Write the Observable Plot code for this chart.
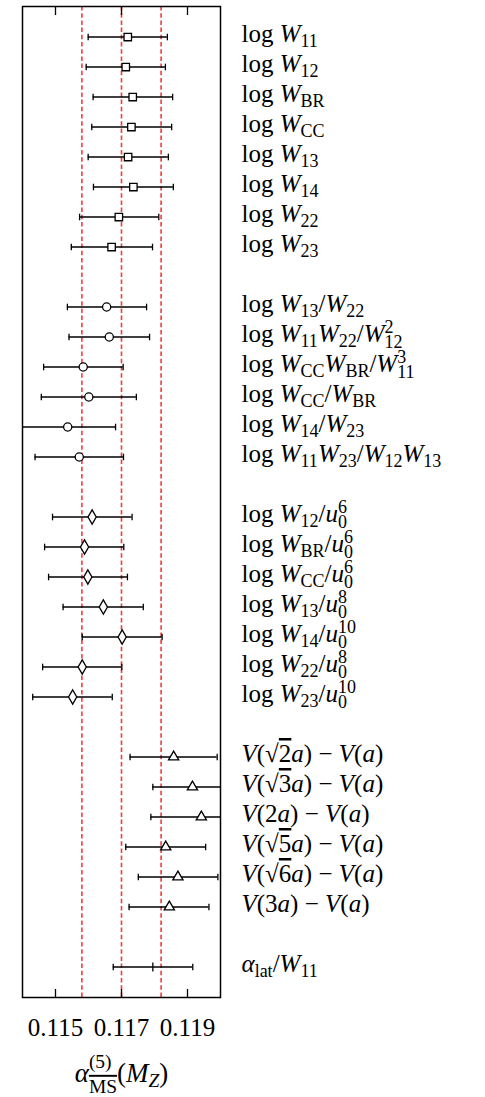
<!DOCTYPE html>
<html><head><meta charset="utf-8">
<script src="https://cdn.jsdelivr.net/npm/d3@7"></script>
<script src="https://cdn.jsdelivr.net/npm/@observablehq/plot@0.6"></script>
<style>html,body{margin:0;padding:0;background:#fff}</style>
</head><body><div id="chart"></div>
<script>
// ---- data ----
const squareLabels = ["log W_{11}", "log W_{12}", "log W_{BR}", "log W_{CC}", "log W_{13}", "log W_{14}", "log W_{22}", "log W_{23}"];
const squareValues = [0.11719, 0.11713, 0.11734, 0.11730, 0.11720, 0.11736, 0.11692, 0.11670];
const squareLow    = [0.11599, 0.11593, 0.11614, 0.11610, 0.11599, 0.11615, 0.11573, 0.11548];
const squareHigh   = [0.11839, 0.11833, 0.11855, 0.11852, 0.11842, 0.11857, 0.11813, 0.11794];

const circleLabels = ["log W_{13}/W_{22}", "log W_{11}W_{22}/W_{12}^{2}", "log W_{CC}W_{BR}/W_{11}^{3}", "log W_{CC}/W_{BR}", "log W_{14}/W_{23}", "log W_{11}W_{23}/W_{12}W_{13}"];
const circleValues = [0.11655, 0.11663, 0.11584, 0.11601, 0.11537, 0.11572];
const circleLow    = [0.11536, 0.11541, 0.11464, 0.11457, 0.11392, 0.11438];
const circleHigh   = [0.11776, 0.11785, 0.11705, 0.11745, 0.11682, 0.11706];

const diamondLabels = ["log W_{12}/u_{0}^{6}", "log W_{BR}/u_{0}^{6}", "log W_{CC}/u_{0}^{6}", "log W_{13}/u_{0}^{8}", "log W_{14}/u_{0}^{10}", "log W_{22}/u_{0}^{8}", "log W_{23}/u_{0}^{10}"];
const diamondValues = [0.11611, 0.11588, 0.11598, 0.11645, 0.11702, 0.11581, 0.11552];
const diamondLow    = [0.11491, 0.11467, 0.11479, 0.11523, 0.11581, 0.11461, 0.11431];
const diamondHigh   = [0.11732, 0.11707, 0.11718, 0.11766, 0.11823, 0.11701, 0.11672];

const triangleLabels = ["V(√{2}a) − V(a)", "V(√{3}a) − V(a)", "V(2a) − V(a)", "V(√{5}a) − V(a)", "V(√{6}a) − V(a)", "V(3a) − V(a)"];
const triangleValues = [0.11858, 0.11915, 0.11942, 0.11834, 0.11871, 0.11845];
const triangleLow    = [0.11726, 0.11795, 0.11789, 0.11713, 0.11751, 0.11723];
const triangleHigh   = [0.11990, 0.12035, 0.12095, 0.11955, 0.11992, 0.11965];

const latticeLabels = ["α_{lat}/W_{11}"];
const latticeValues = [0.11795];
const latticeLow    = [0.11675];
const latticeHigh   = [0.11916];

const tickValues = [0.115, 0.117, 0.119];
const bandValues = [0.1158, 0.1170, 0.1182];
const xLabel = "α^{(5)}_{¯{MS}}(M_{Z})";

// ---- build table ----
const vbar = {draw(ctx, size) { const r = Math.sqrt(size / Math.PI); ctx.moveTo(0, -r); ctx.lineTo(0, r); }};
const groups = [
  {symbol: "square", r: 4.2, labels: squareLabels, values: squareValues, low: squareLow, high: squareHigh},
  {symbol: "circle", r: 4.1, labels: circleLabels, values: circleValues, low: circleLow, high: circleHigh},
  {symbol: "diamond", r: 4.3, labels: diamondLabels, values: diamondValues, low: diamondLow, high: diamondHigh},
  {symbol: "triangle", r: 3.8, labels: triangleLabels, values: triangleValues, low: triangleLow, high: triangleHigh},
  {symbol: vbar, r: 4.6, labels: latticeLabels, values: latticeValues, low: latticeLow, high: latticeHigh}
];
const rows = [];
const domain = [];
groups.forEach((g, gi) => {
  if (gi > 0) domain.push("gap" + gi);
  g.labels.forEach((label, i) => {
    domain.push(label);
    rows.push({label, group: gi, value: g.values[i], low: g.low[i], high: g.high[i]});
  });
});

const marks = [
  Plot.ruleX(bandValues, {stroke: "#f02828", strokeOpacity: 0.9, strokeWidth: 1.6, strokeDasharray: "4.5,2.7"}),
  Plot.ruleY(rows, {y: "label", x1: "low", x2: "high", stroke: "black", strokeWidth: 1.3, clip: true}),
  Plot.dot(rows, {x: "low", y: "label", symbol: vbar, r: 3.3, stroke: "black", strokeWidth: 1.3, clip: true}),
  Plot.dot(rows, {x: "high", y: "label", symbol: vbar, r: 3.3, stroke: "black", strokeWidth: 1.3, clip: true}),
  ...groups.map((g, gi) => Plot.dot(rows.filter(d => d.group === gi), {
    x: "value", y: "label", symbol: g.symbol, r: g.r,
    fill: g.symbol === vbar ? "none" : "white", stroke: "black", strokeWidth: 1.3
  })),
  Plot.text(rows, {y: "label", text: "label", frameAnchor: "right", dx: 21, textAnchor: "start",
    lineAnchor: "bottom", dy: 5, fontSize: 25, fill: "black"}),
  Plot.frame({stroke: "black", strokeWidth: 1.5}),
  Plot.axisX(tickValues, {anchor: "bottom", tickSize: 8, dy: -8, tickPadding: 21, fontSize: 25,
    strokeWidth: 1.3, tickFormat: d3.format(".3f")}),
  Plot.axisX(tickValues, {anchor: "top", tickSize: 8, dy: 8, strokeWidth: 1.3, tickFormat: () => ""}),
  Plot.text([xLabel], {frameAnchor: "bottom", dy: 84, lineAnchor: "bottom", fontSize: 27, fill: "black"})
];

const svg = Plot.plot({
  width: 485, height: 1097,
  marginLeft: 22, marginRight: 265, marginTop: 6, marginBottom: 100,
  style: {fontFamily: "'Liberation Serif', serif", fontSize: "24px", background: "white", color: "black", overflow: "visible"},
  x: {domain: [0.114, 0.120], axis: null},
  y: {type: "point", domain, padding: 1.017, axis: null},
  marks
});
document.getElementById("chart").append(svg);

// ---- tiny math typesetter for the labels ----
function readGroup(str, j) {
  let depth = 0, k = j;
  for (; k < str.length; k++) {
    if (str[k] === "{") depth++;
    else if (str[k] === "}") { depth--; if (depth === 0) break; }
  }
  return [str.slice(j + 1, k), k + 1];
}
const LETTER = /[A-Za-zα-ω]/;
function parseRuns(str, level, overline) {
  const out = [];
  let j = 0;
  while (j < str.length) {
    const c = str[j];
    if (c === "_" || c === "^") {
      const [inner, k] = readGroup(str, j + 1);
      const a = {kind: c, runs: parseRuns(inner, "script", overline)};
      if ((str[k] === "_" || str[k] === "^") && str[k] !== c) {
        const [inner2, k2] = readGroup(str, k + 1);
        const b = {kind: str[k], runs: parseRuns(inner2, "script", overline)};
        out.push({stack: [a, b]}); j = k2;
      } else { out.push({stack: [a]}); j = k; }
      continue;
    }
    if (c === "√") {
      out.push({text: "√", italic: false, level, overline});
      const [inner, k] = readGroup(str, j + 1);
      out.push(...parseRuns(inner, level, true)); j = k; continue;
    }
    if (c === "¯") {
      const [inner, k] = readGroup(str, j + 1);
      out.push(...parseRuns(inner, level, true)); j = k; continue;
    }
    if (LETTER.test(c)) {
      let k = j; while (k < str.length && LETTER.test(str[k])) k++;
      const w = str.slice(j, k);
      out.push({text: w, italic: w.length === 1, level, overline}); j = k; continue;
    }
    let k = j; while (k < str.length && !/[A-Za-zα-ω_^√¯{}]/.test(str[k])) k++;
    if (k === j) k = j + 1;
    out.push({text: str.slice(j, k), italic: false, level, overline}); j = k;
  }
  return out;
}
function typeset(t, opt) {
  const fs = parseFloat(getComputedStyle(t).fontSize);
  const items = parseRuns(t.textContent, "base", false);
  t.textContent = "";
  const NS = "http://www.w3.org/2000/svg";
  let cur = 0, pendingDx = 0;
  function addRun(r, shift) {
    const ts = document.createElementNS(NS, "tspan");
    ts.textContent = r.text;
    if (r.italic) ts.setAttribute("font-style", "italic");
    if (r.overline) ts.setAttribute("text-decoration", "overline");
    ts.setAttribute("font-size", r.level === "base" ? fs : fs * 0.72);
    const dy = shift - cur;
    if (dy) ts.setAttribute("dy", dy);
    cur = shift;
    if (pendingDx) { ts.setAttribute("dx", pendingDx); pendingDx = 0; }
    t.appendChild(ts);
    return ts;
  }
  for (const it of items) {
    if (!it.stack) { addRun(it, 0); continue; }
    const stacked = it.stack.length === 2;
    const widths = [];
    it.stack.forEach((g, gi) => {
      const shift = g.kind === "_" ? fs * (stacked ? opt.subStack : opt.sub) : -fs * opt.sup;
      if (gi === 1) pendingDx = -widths[0];
      let w = 0;
      g.runs.forEach(r => { const ts = addRun(r, shift); w += ts.getComputedTextLength(); });
      widths.push(w);
    });
    if (stacked) pendingDx = Math.max(0, widths[0] - widths[1]);
  }
}
const labelSet = new Set(rows.map(d => d.label));
svg.querySelectorAll("text").forEach(t => {
  const s = t.textContent;
  if (labelSet.has(s)) typeset(t, {sub: 0.2, subStack: 0.24, sup: 0.36});
  else if (s === xLabel) typeset(t, {sub: 0.2, subStack: 0.42, sup: 0.5});
});
</script>
</body></html>
